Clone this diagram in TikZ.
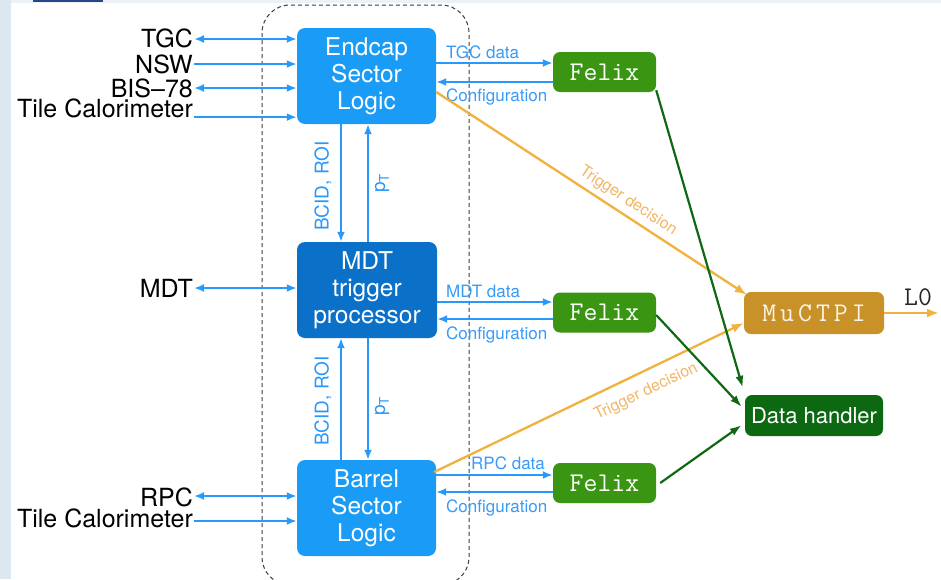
\documentclass[tikz,border=0pt]{standalone}
\usepackage{fontspec}
\setsansfont{TeX Gyre Heros}
\usetikzlibrary{arrows.meta,calc}

\definecolor{boxblue}{RGB}{26,155,245}
\definecolor{mdtblue}{RGB}{10,112,200}
\definecolor{arrblue}{RGB}{40,152,250}
\definecolor{lblblue}{RGB}{55,155,250}
\definecolor{felixgreen}{RGB}{58,150,18}
\definecolor{dhgreen}{RGB}{12,105,18}
\definecolor{linegreen}{RGB}{15,105,20}
\definecolor{mucolor}{RGB}{200,146,40}
\definecolor{orline}{RGB}{240,178,60}
\definecolor{ortext}{RGB}{242,182,100}
\definecolor{stripcol}{RGB}{221,231,239}
\definecolor{topcol}{RGB}{236,241,246}
\definecolor{navybar}{RGB}{40,70,135}
\definecolor{dashcol}{RGB}{60,60,60}

\tikzset{
  slbox/.style={rounded corners=8pt, minimum width=139pt, minimum height=96pt, inner sep=0pt,
    align=center, text=white, font=\sffamily\fontsize{24.5}{27}\selectfont},
  felixbox/.style={rounded corners=7pt, fill=felixgreen, minimum width=103pt, minimum height=40pt,
    inner sep=0pt, text=white, font=\ttfamily\fontsize{27}{27}\selectfont},
  srclbl/.style={anchor=east, inner sep=1pt, text=black, font=\sffamily\fontsize{25}{25}\selectfont},
  datalbl/.style={anchor=west, inner sep=0pt, text=lblblue, font=\sffamily\fontsize{17}{17}\selectfont},
  vlbl/.style={rotate=90, inner sep=0pt, text=arrblue, font=\sffamily\fontsize{19}{19}\selectfont},
  trglbl/.style={sloped, inner sep=0pt, text=ortext, font=\sffamily\fontsize{16}{16}\selectfont},
  barr/.style={draw=arrblue, line width=2.6pt, -{Latex[length=10pt,width=8pt]}},
  bdarr/.style={draw=arrblue, line width=2.6pt, {Latex[length=10pt,width=8pt]}-{Latex[length=10pt,width=8pt]}},
  oarr/.style={draw=orline, line width=2.3pt, -{Latex[length=12pt,width=9pt]}},
  garr/.style={draw=linegreen, line width=2.2pt, -{Latex[length=12pt,width=8pt]}},
}

\begin{document}
\begin{tikzpicture}[x=1pt,y=1pt]
\useasboundingbox (0,0) rectangle (941,-579);
\clip (0,0) rectangle (941,-579);
% background
\fill[white] (0,0) rectangle (941,-579);
\fill[stripcol] (0,0) rectangle (11,-579);
\fill[topcol] (11,0) rectangle (941,-3);
\fill[navybar] (33,0) rectangle (103,-1.5);

% dashed group
\draw[dashcol, line width=1pt, dash pattern=on 4pt off 3pt, rounded corners=28pt] (262,-5) rectangle (469,-585);

% main boxes
\node[slbox, fill=boxblue] (esl) at (366.5,-76) {Endcap\\Sector\\Logic};
\node[slbox, fill=mdtblue, minimum width=140pt] (mdt) at (367,-290) {MDT\\trigger\\processor};
\node[slbox, fill=boxblue] (bsl) at (366.5,-508) {Barrel\\Sector\\Logic};

\node[felixbox] (f1) at (604.5,-72) {Felix};
\node[felixbox] (f2) at (604.5,-312.5) {Felix};
\node[felixbox] (f3) at (604.5,-483) {Felix};

\node[rounded corners=7pt, fill=mucolor, minimum width=140pt, minimum height=42pt, inner sep=0pt,
  text=white!90!mucolor, font=\ttfamily\fontsize{27}{27}\selectfont] (mu) at (814,-313)
  {M\kern4pt u\kern4pt C\kern4pt T\kern4pt P\kern4pt I};
\node[rounded corners=7pt, fill=dhgreen, minimum width=138pt, minimum height=41pt, inner sep=0pt,
  text=white, font=\sffamily\fontsize{22}{22}\selectfont] (dh) at (814,-415.5) {Data handler};

% L0
\node[inner sep=0pt, text=black!85, font=\ttfamily\fontsize{27}{27}\selectfont] (l0) at (918,-297) {L0};
\coordinate (l0end) at (939,-313);
\draw[oarr] (mu.east |- l0end) -- (l0end);

% left labels
\node[srclbl] (tgc) at (194,-38) {TGC};
\node[srclbl] (nsw) at (194,-64) {NSW};
\node[srclbl] (bis) at (194,-88) {BIS–78};
\node[srclbl] (tile1) at (194,-108) {Tile Calorimeter};
\node[srclbl] (mdtl) at (194,-288) {MDT};
\node[srclbl] (rpc) at (194,-497) {RPC};
\node[srclbl] (tile2) at (194,-518) {Tile Calorimeter};

\coordinate (tgca) at ([yshift=-1pt]tgc.east);
\draw[bdarr] (tgca) -- (esl.west |- tgca);
\draw[barr] (nsw.east) -- (esl.west |- nsw.east);
\draw[bdarr] (bis.east) -- (esl.west |- bis.east);
\draw[barr] (tile1.base east) -- (esl.west |- tile1.base east);
\draw[bdarr] (mdtl.east) -- (mdt.west |- mdtl.east);
\coordinate (rpca) at ([yshift=1pt]rpc.east);
\draw[bdarr] (rpca) -- (bsl.west |- rpca);
\coordinate (t2a) at ([yshift=-3pt]tile2.east);
\draw[barr] (t2a) -- (bsl.west |- t2a);

% vertical links
\coordinate (vl) at (341,0);
\coordinate (vr) at (368,0);
\draw[barr] (esl.south -| vl) -- (mdt.north -| vl);
\draw[barr] (mdt.north -| vr) -- (esl.south -| vr);
\draw[barr] (bsl.north -| vl) -- (mdt.south -| vl);
\draw[barr] (mdt.south -| vr) -- (bsl.north -| vr);
\node[vlbl] (bc1) at (323,-186) {BCID, ROI};
\node[vlbl] (pt1) at (382,-183) {p\textsubscript{T}};
\node[vlbl] (bc2) at (323,-401) {BCID, ROI};
\node[vlbl] (pt2) at (382,-406) {p\textsubscript{T}};

% data / configuration links
\coordinate (f1in) at ([yshift=9pt]f1.west);
\coordinate (f1out) at ([yshift=-10pt]f1.west);
\draw[barr] (esl.east |- f1in) -- (f1in);
\draw[barr] (f1out) -- (esl.east |- f1out);
\node[datalbl] (tgcd) at (446,-52) {TGC data};
\node[datalbl] (cf1) at (446,-97) {Configuration};

\coordinate (f2in) at ([yshift=10.5pt]f2.west);
\coordinate (f2out) at ([yshift=-6.5pt]f2.west);
\draw[barr] (mdt.east |- f2in) -- (f2in);
\draw[barr] (f2out) -- (mdt.east |- f2out);
\node[datalbl] (mdtd) at (446,-291) {MDT data};
\node[datalbl] (cf2) at (446,-335) {Configuration};

\coordinate (f3in) at ([yshift=8pt]f3.west);
\coordinate (f3out) at ([yshift=-9pt]f3.west);
\draw[barr] (bsl.east |- f3in) -- (f3in);
\draw[barr] (f3out) -- (bsl.east |- f3out);
\node[datalbl] (rpcd) at (471,-463) {RPC data};
\node[datalbl] (cf3) at (446,-508) {Configuration};

% trigger decisions
\draw[oarr] ([yshift=-16pt]esl.east) -- node[trglbl, pos=0.594, above=5pt] {Trigger decision} ([shift={(3pt,-3pt)}]mu.north west);
\draw[oarr] ([shift={(-2pt,36pt)}]bsl.east) -- node[trglbl, pos=0.657, below=11pt] {Trigger decision} ([yshift=-10pt]mu.west);

% green links to data handler
\draw[garr] ([yshift=2pt]f1.south east) -- ([shift={(-2pt,7pt)}]dh.north west);
\draw[garr] ([yshift=-2.5pt]f2.east) -- ([shift={(-3pt,8.5pt)}]dh.west);
\draw[garr] ([xshift=4pt]f3.east) -- ([shift={(-3pt,-9.5pt)}]dh.west);
\end{tikzpicture}
\end{document}
